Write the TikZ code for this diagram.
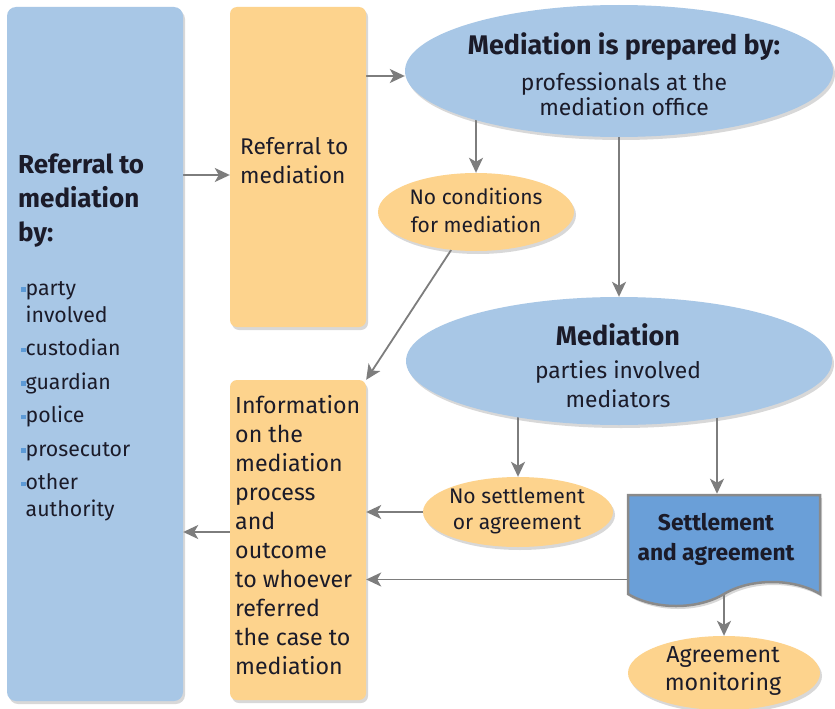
\documentclass[tikz,border=0pt]{standalone}
\usepackage{fontspec}
\setmainfont{Fira Sans}
\usetikzlibrary{arrows.meta,shapes.geometric,shapes.symbols,shadows,backgrounds}
\definecolor{paleblue}{HTML}{A8C7E6}
\definecolor{paleorange}{HTML}{FDD38D}
\definecolor{docblue}{HTML}{6A9FD8}
\definecolor{docedge}{HTML}{8A8A8A}
\definecolor{arrowgray}{HTML}{7D7D7D}
\definecolor{inkdark}{HTML}{1B1B29}
\definecolor{bulletblue}{HTML}{5D9AD6}
\newcommand{\bul}{\textcolor{bulletblue}{\rule[3.5pt]{4.5pt}{4.5pt}}\hspace{5pt}}

\begin{document}
\begin{tikzpicture}[x=1pt,y=-1pt,
    box/.style={rectangle,rounded corners=7pt,minimum width=136pt,minimum height=320pt,inner sep=0pt,fill=paleorange,drop shadow={shadow xshift=2pt,shadow yshift=-3pt,opacity=.3}},
    oval/.style={ellipse,inner sep=0pt,fill=paleorange,drop shadow={shadow xshift=2pt,shadow yshift=-3pt,opacity=.3}},
    words/.style={inner sep=0pt,text=inkdark,anchor=base},
    arr/.style={draw=arrowgray,line width=1.8pt,-{Stealth[length=15pt,width=14pt,inset=4pt]}}]

\useasboundingbox (0,0) rectangle (835,709);

\node[box,fill=paleblue,minimum width=176pt,minimum height=694pt,rounded corners=9pt] (refby) at (95,354) {};
\node[box] (refer) at (298,167) {};
\node[box] (inform) at (298,540) {};

\node[oval,fill=paleblue,minimum width=428pt,minimum height=132pt] (prep) at (619,71) {};
\node[oval,minimum width=196pt,minimum height=78pt] (nocond) at (476,212) {};
\node[oval,fill=paleblue,minimum width=426pt,minimum height=128pt] (medi) at (619,361) {};
\node[oval,minimum width=190pt,minimum height=70pt] (noset) at (518,512) {};
\node[shape=tape,tape bend top=none,tape bend bottom=in and out,tape bend height=24pt,
      minimum width=192pt,minimum height=111pt,inner sep=0pt,fill=docblue,draw=docedge,line width=2.5pt,
      drop shadow={shadow xshift=2pt,shadow yshift=-3pt,opacity=.3}] (settle) at (724,538.5) {};
\node[oval,minimum width=192pt,minimum height=74pt] (monitor) at (724,673) {};

\node[words,anchor=base west,font=\fontsize{26}{34}\selectfont\bfseries] (refbyhead) at (18,173)
    {\begin{tabular}[t]{@{}l@{}}Referral to\\mediation\\by:\end{tabular}};
\node[words,anchor=base west,font=\fontsize{21.3}{27}\selectfont] (refbylist) at (21,295)
    {\begin{tabular}[t]{@{}l@{}l@{}}\bul&party\\&involved\\[6.5pt]\bul&custodian\\[6.5pt]\bul&guardian\\[6.5pt]\bul&police\\[6.5pt]\bul&prosecutor\\[6.5pt]\bul&other\\&authority\end{tabular}};
\node[words,anchor=base west,font=\fontsize{22.7}{29}\selectfont] (refertxt) at (240,154)
    {\begin{tabular}[t]{@{}l@{}}Referral to\\mediation\end{tabular}};
\node[words,anchor=base west,font=\fontsize{23.2}{29.1}\selectfont] (informtxt) at (235,413)
    {\begin{tabular}[t]{@{}l@{}}Information\\on the\\mediation\\process\\and\\outcome\\to whoever\\referred\\the case to\\mediation\end{tabular}};
\node[words,font=\fontsize{22.9}{25}\selectfont] (preptxt) at (624,55)
    {\begin{tabular}[t]{@{}c@{}}{\fontsize{26.9}{25}\selectfont\bfseries Mediation is prepared by:}\\[10pt]professionals at the\\mediation office\end{tabular}};
\node[words,font=\fontsize{21}{28}\selectfont] (nocondtxt) at (476,204)
    {\begin{tabular}[t]{@{}c@{}}No conditions\\for mediation\end{tabular}};
\node[words,font=\fontsize{22.8}{29}\selectfont] (meditxt) at (618,345)
    {\begin{tabular}[t]{@{}c@{}}{\fontsize{27}{29}\selectfont\bfseries Mediation}\\[4pt]parties involved\\mediators\end{tabular}};
\node[words,font=\fontsize{21.1}{26}\selectfont] (nosettxt) at (517,503)
    {\begin{tabular}[t]{@{}c@{}}No settlement\\or agreement\end{tabular}};
\node[words,font=\fontsize{22.8}{30}\selectfont\bfseries] (settletxt) at (716,530)
    {\begin{tabular}[t]{@{}c@{}}Settlement\\and agreement\end{tabular}};
\node[words,font=\fontsize{23.2}{28}\selectfont] (monitortxt) at (723,662)
    {\begin{tabular}[t]{@{}c@{}}Agreement\\monitoring\end{tabular}};

\begin{scope}[on background layer]
\fill[white] (0,0) rectangle (835,709);
\coordinate (settlefoot) at ([yshift=-41pt]settle.west);
\coordinate (settletop) at ([xshift=-7pt]settle.north);
\draw[arr] (refby.east |- 0,175) -- (refer.west |- 0,175);
\draw[arr] (refer.east |- 0,76) -- (prep.west |- 0,76);
\draw[arr] (nocond |- prep) -- (nocond);
\draw[arr] (prep) -- (medi);
\draw[arr] (nocond) -- (inform.north east);
\draw[arr] (noset |- medi) -- (noset);
\draw[arr] (settletop |- medi) -- (settletop);
\draw[arr] (noset) -- (inform.east |- noset);
\draw[arr] (settlefoot) -- (inform.east |- settlefoot);
\draw[arr] (inform.west |- 0,532) -- (refby.east |- 0,532);
\draw[arr] (settle) -- (monitor);
\end{scope}

\end{tikzpicture}
\end{document}
